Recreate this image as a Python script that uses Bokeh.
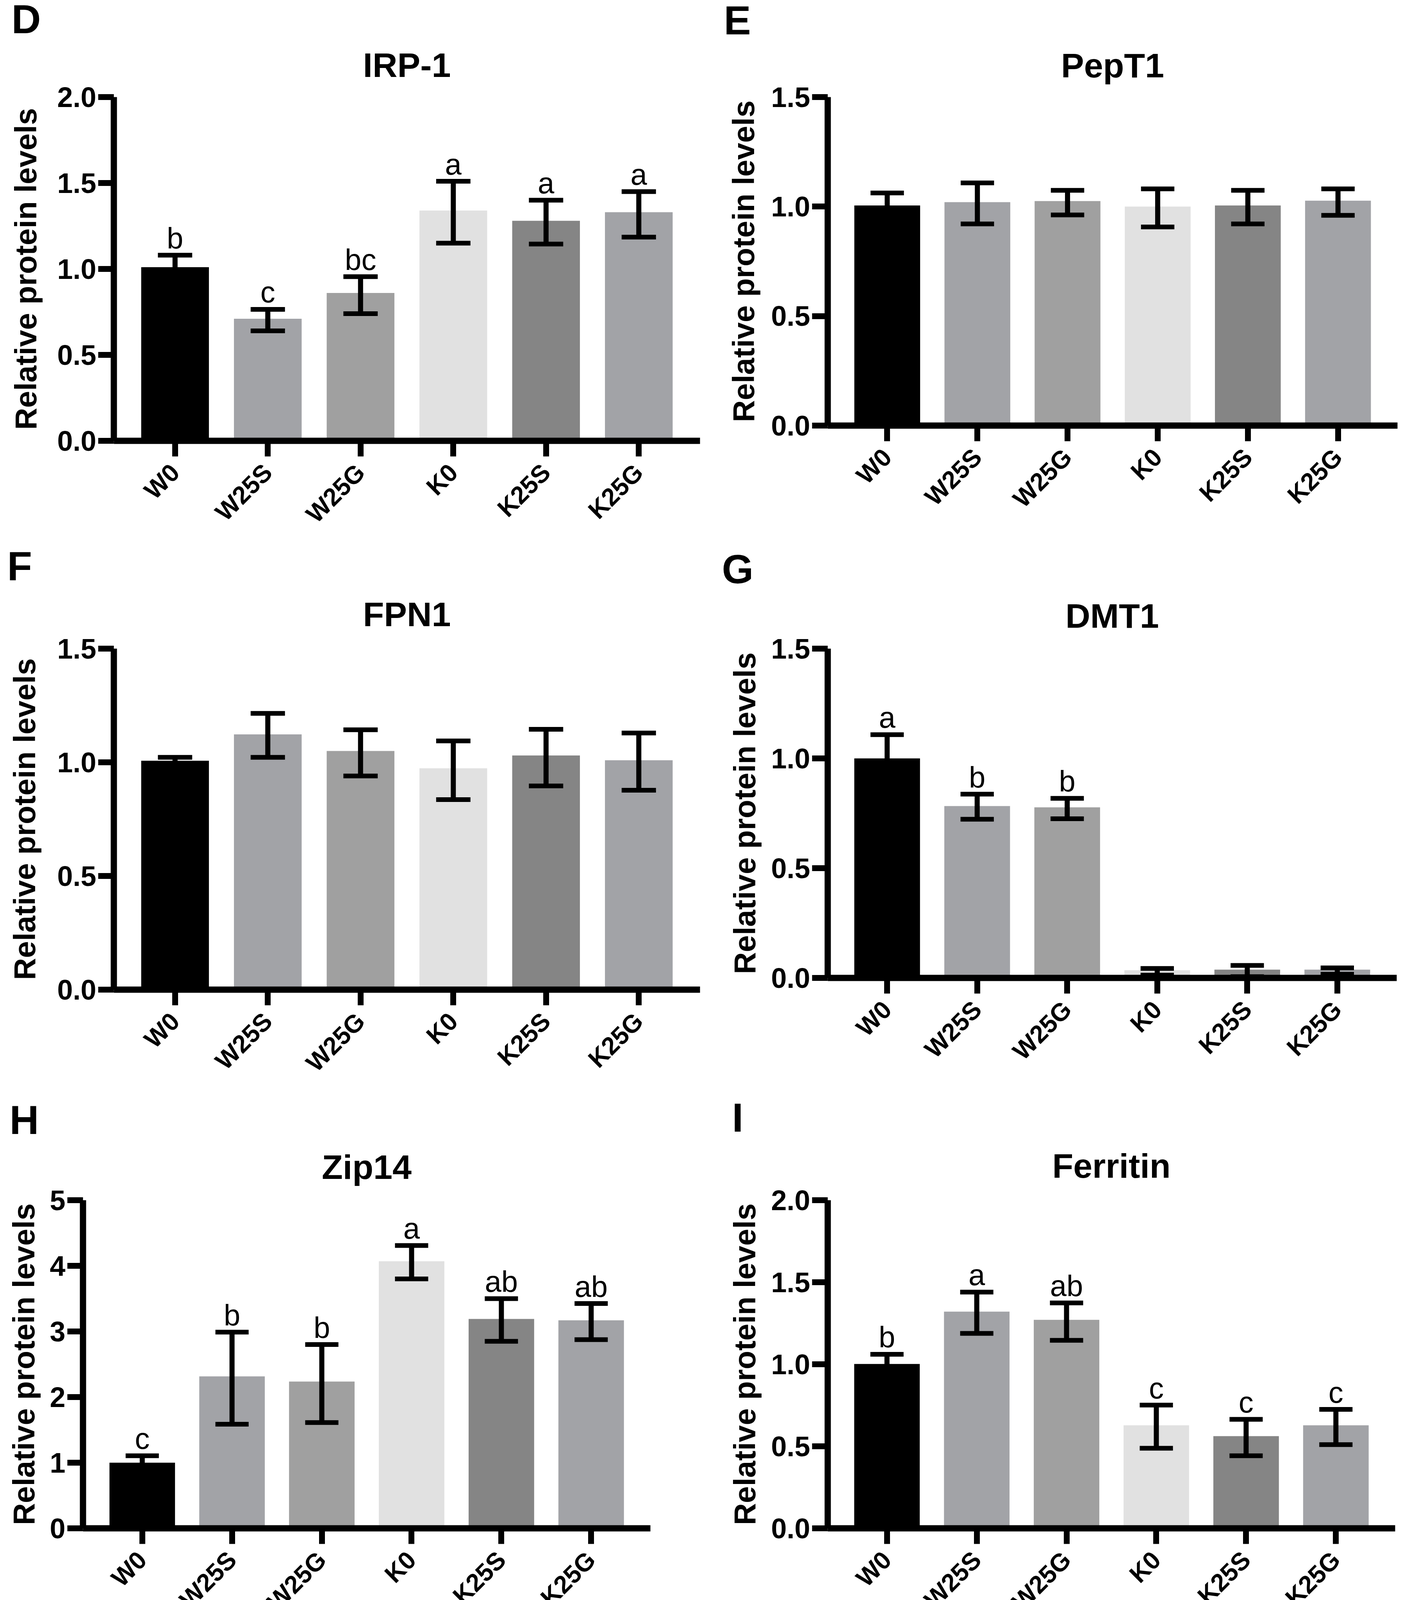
import math
from bokeh.plotting import figure
from bokeh.models import (FactorRange, Range1d, FixedTicker, Title,
                          ColumnDataSource, PrintfTickFormatter)
from bokeh.layouts import column, row
from bokeh.transform import dodge
from bokeh.core.properties import value
from bokeh.embed import file_html
from bokeh.resources import INLINE

# ---------------- data ----------------
groups = ["W0", "W25S", "W25G", "K0", "K25S", "K25G"]
bar_colors = ["#000000", "#A2A3A7", "#A0A0A0", "#E1E1E1", "#858585", "#A2A3A7"]

irp1_mean = [1.01, 0.71, 0.86, 1.34, 1.28, 1.33]
irp1_upper = [1.08, 0.765, 0.955, 1.51, 1.40, 1.45]
irp1_lower = [0.94, 0.64, 0.74, 1.15, 1.145, 1.185]
irp1_letters = ["b", "c", "bc", "a", "a", "a"]

pept1_mean = [1.005, 1.02, 1.025, 1.0, 1.005, 1.027]
pept1_upper = [1.062, 1.108, 1.074, 1.081, 1.074, 1.081]
pept1_lower = [0.948, 0.921, 0.962, 0.907, 0.921, 0.960]
pept1_letters = ["", "", "", "", "", ""]

fpn1_mean = [1.007, 1.123, 1.05, 0.974, 1.03, 1.009]
fpn1_upper = [1.022, 1.215, 1.143, 1.094, 1.145, 1.129]
fpn1_lower = [0.992, 1.022, 0.94, 0.836, 0.896, 0.877]
fpn1_letters = ["", "", "", "", "", ""]

dmt1_mean = [1.0, 0.783, 0.777, 0.035, 0.038, 0.038]
dmt1_upper = [1.108, 0.837, 0.818, 0.043, 0.057, 0.046]
dmt1_lower = [0.892, 0.723, 0.725, 0.013, 0.006, 0.017]
dmt1_letters = ["a", "b", "b", "", "", ""]

zip14_mean = [1.0, 2.315, 2.236, 4.07, 3.19, 3.17]
zip14_upper = [1.105, 2.99, 2.80, 4.31, 3.50, 3.425]
zip14_lower = [0.895, 1.586, 1.612, 3.80, 2.85, 2.875]
zip14_letters = ["c", "b", "b", "a", "ab", "ab"]

ferritin_mean = [1.002, 1.321, 1.271, 0.628, 0.562, 0.628]
ferritin_upper = [1.061, 1.44, 1.374, 0.751, 0.664, 0.725]
ferritin_lower = [0.943, 1.188, 1.146, 0.488, 0.442, 0.51]
ferritin_letters = ["b", "a", "ab", "c", "c", "c"]

ticks_2 = [0, 0.5, 1.0, 1.5, 2.0]
ticks_15 = [0, 0.5, 1.0, 1.5]
ticks_5 = [0, 1, 2, 3, 4, 5]

FONT = "Liberation Sans"


def make_panel(letter, title, mean, upper, lower, letters, ymax, ticks, fmt,
               w, h, left, fw, top, fh, lab_standoff,
               title_standoff, letter_offset):
    right = w - left - fw
    bottom = h - top - fh
    p = figure(x_range=FactorRange(factors=groups, range_padding=0.16,
                                   range_padding_units="absolute"),
               y_range=Range1d(0, ymax),
               frame_width=fw, frame_height=fh,
               min_border_left=left, min_border_right=right,
               min_border_top=top, min_border_bottom=bottom,
               title=None,
               output_backend="svg", toolbar_location=None)
    p.outline_line_color = None
    p.xgrid.grid_line_color = None
    p.ygrid.grid_line_color = None
    p.background_fill_color = "white"
    p.border_fill_color = "white"

    src = ColumnDataSource(dict(x=groups, top=mean, upper=upper, lower=lower,
                                color=bar_colors, letter=letters))
    p.vbar(x="x", top="top", width=0.73, fill_color="color", line_color=None,
           source=src)
    p.segment(x0="x", y0="lower", x1="x", y1="upper", line_width=13,
              line_color="black", source=src)
    p.segment(x0=dodge("x", -0.185, range=p.x_range), y0="upper",
              x1=dodge("x", 0.185, range=p.x_range), y1="upper",
              line_width=12, line_color="black", source=src)
    p.segment(x0=dodge("x", -0.185, range=p.x_range), y0="lower",
              x1=dodge("x", 0.185, range=p.x_range), y1="lower",
              line_width=12, line_color="black", source=src)
    p.text(x="x", y="upper", text="letter", text_align="center",
           text_baseline="alphabetic", y_offset=-44, text_font_size="76px",
           text_font=value(FONT), text_color="black", source=src)

    for ax in (p.xaxis[0], p.yaxis[0]):
        ax.axis_line_width = 16
        ax.axis_line_color = "black"
        ax.major_tick_line_width = 15
        ax.major_tick_line_color = "black"
        ax.major_tick_out = 40
        ax.major_tick_in = 0
        ax.minor_tick_line_color = None
        ax.major_label_text_font = FONT
        ax.major_label_text_font_style = "bold"
        ax.major_label_text_color = "black"

    p.xaxis.major_label_orientation = math.pi / 4
    p.xaxis.major_label_text_font_size = "64px"
    p.xaxis.major_label_standoff = 30

    p.yaxis.ticker = FixedTicker(ticks=ticks)
    p.yaxis.formatter = PrintfTickFormatter(format=fmt)
    p.yaxis.major_label_text_font_size = "72px"
    p.yaxis.major_label_standoff = 5
    p.yaxis.axis_label = "Relative protein levels"
    p.yaxis.axis_label_text_font = FONT
    p.yaxis.axis_label_text_font_size = "78px"
    p.yaxis.axis_label_text_font_style = "bold"
    p.yaxis.axis_label_text_color = "black"
    p.yaxis.axis_label_standoff = lab_standoff

    p.add_layout(Title(text=title, align="center", text_font=FONT,
                       text_font_size="88px", text_font_style="bold",
                       text_color="black", standoff=title_standoff), "above")
    p.add_layout(Title(text=letter, align="left", text_font=FONT,
                       text_font_size="104px", text_font_style="bold",
                       text_color="black", standoff=-50,
                       offset=letter_offset), "above")
    return p


# rows: heights 1385, 1400, 1380 ; columns: widths 1807, 1808
pD = make_panel("D", "IRP-1", irp1_mean, irp1_upper, irp1_lower, irp1_letters,
                2.0, ticks_2, "%.1f", 1807, 1385, 291, 1501, 248, 880, 33,
                66, -262)
pE = make_panel("E", "PepT1", pept1_mean, pept1_upper, pept1_lower, pept1_letters,
                1.5, ticks_15, "%.1f", 1808, 1385, 312, 1459, 243, 841, 23,
                63, -266)
pF = make_panel("F", "FPN1", fpn1_mean, fpn1_upper, fpn1_lower, fpn1_letters,
                1.5, ticks_15, "%.1f", 1807, 1400, 291, 1501, 275, 873, 36,
                78, -273)
pG = make_panel("G", "DMT1", dmt1_mean, dmt1_upper, dmt1_lower, dmt1_letters,
                1.5, ticks_15, "%.1f", 1808, 1400, 312, 1457, 265, 843, 20,
                70, -271)
pH = make_panel("H", "Zip14", zip14_mean, zip14_upper, zip14_lower, zip14_letters,
                5, ticks_5, "%d", 1807, 1380, 212, 1453, 287, 840, 19,
                72, -188)
pI = make_panel("I", "Ferritin", ferritin_mean, ferritin_upper, ferritin_lower,
                ferritin_letters, 2.0, ticks_2, "%.1f", 1808, 1380, 312, 1453,
                287, 840, 20, 78, -245)

layout = column(row(pD, pE), row(pF, pG), row(pH, pI))
open("out.html", "w").write(file_html(layout, INLINE))
